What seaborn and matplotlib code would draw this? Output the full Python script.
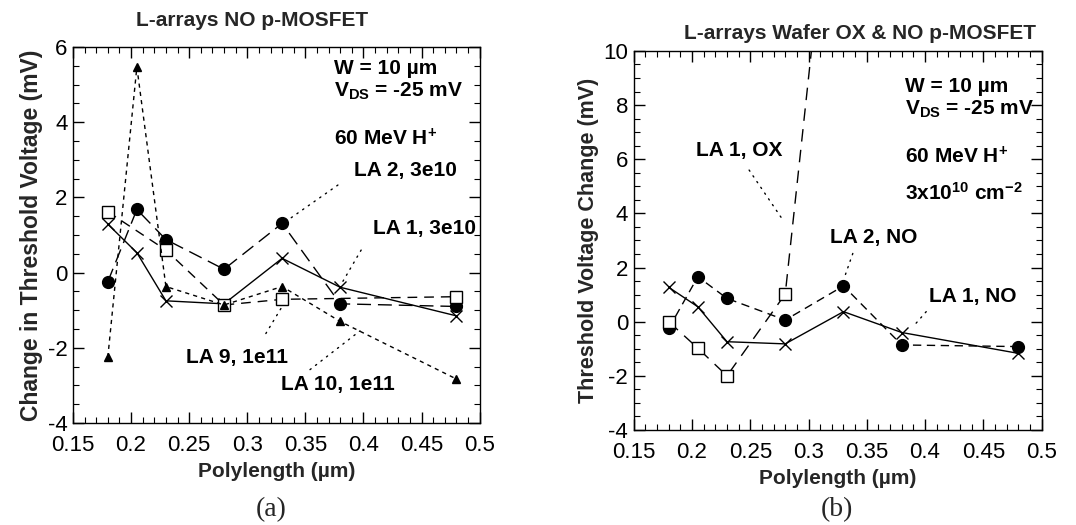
import matplotlib
matplotlib.use("Agg")
import matplotlib.pyplot as plt
import seaborn as sns
from matplotlib.ticker import FixedLocator, MultipleLocator

# ---------------- data ----------------
x_all = [0.18, 0.205, 0.23, 0.28, 0.33, 0.38, 0.48]

# panel (a)
a_la1_y = [1.29, 0.53, -0.75, -0.83, 0.38, -0.39, -1.15]      # crosses, solid
a_la2_y = [-0.24, 1.68, 0.88, 0.09, 1.31, -0.83, -0.90]       # filled circles
a_la9_x = [0.18, 0.23, 0.28, 0.33, 0.48]
a_la9_y = [1.62, 0.60, -0.86, -0.71, -0.64]                   # open squares
a_la10_y = [-2.25, 5.47, -0.37, -0.86, -0.37, -1.30, -2.83]   # filled triangles

# panel (b)
b_la1no_y = [1.27, 0.55, -0.74, -0.82, 0.37, -0.40, -1.17]    # crosses
b_la2no_y = [-0.25, 1.66, 0.86, 0.06, 1.32, -0.86, -0.92]     # filled circles
b_la1ox_x = [0.18, 0.205, 0.23, 0.28, 0.33]
b_la1ox_y = [0.0, -0.98, -2.0, 1.02, 21.0]                    # open squares

x_ticks = [0.15, 0.2, 0.25, 0.3, 0.35, 0.4, 0.45, 0.5]
x_ticklabels = ["0.15", "0.2", "0.25", "0.3", "0.35", "0.4", "0.45", "0.5"]
a_yticks = [-4, -2, 0, 2, 4, 6]
b_yticks = [-4, -2, 0, 2, 4, 6, 8, 10]

# ---------------- style ----------------
sns.set_theme(style="ticks")
plt.rcParams['font.family'] = ['Liberation Sans', 'DejaVu Sans']
plt.rcParams['axes.unicode_minus'] = False
plt.rcParams['mathtext.fontset'] = 'custom'
plt.rcParams['mathtext.rm'] = 'Liberation Sans:bold'
plt.rcParams['mathtext.it'] = 'Liberation Sans:bold'
plt.rcParams['mathtext.bf'] = 'Liberation Sans:bold'
plt.rcParams['mathtext.default'] = 'rm'

fig = plt.figure(figsize=(10.76, 5.25), dpi=100)
ax1 = fig.add_axes([0.0678, 0.1943, 0.378, 0.716])
ax2 = fig.add_axes([0.589, 0.181, 0.379, 0.722])

K = "black"
lw = 1.0

def series(ax, x, y, marker, ls, ms, mfc=K):
    sns.lineplot(x=x, y=y, ax=ax, sort=False, estimator=None, color=K,
                 linewidth=lw, linestyle=ls, marker=marker, markersize=ms,
                 markerfacecolor=mfc, markeredgecolor=K, markeredgewidth=1.0)

# panel (a)
series(ax1, x_all, a_la1_y, "x", "-", 9)
series(ax1, x_all, a_la2_y, "o", (0, (10, 5)), 8.5)
series(ax1, a_la9_x, a_la9_y, "s", (0, (7, 5)), 8, "white")
series(ax1, x_all, a_la10_y, "^", (0, (3, 3)), 6)

# panel (b)
series(ax2, x_all, b_la1no_y, "x", "-", 9)
series(ax2, x_all, b_la2no_y, "o", (0, (6, 4)), 8.5)
series(ax2, b_la1ox_x, b_la1ox_y, "s", (0, (9, 6)), 8, "white")

def style_axes(ax, ylim, yticks):
    ax.set_xlim(0.15, 0.5)
    ax.set_ylim(*ylim)
    ax.xaxis.set_major_locator(FixedLocator(x_ticks))
    ax.set_xticklabels(x_ticklabels)
    ax.xaxis.set_minor_locator(MultipleLocator(0.01))
    ax.yaxis.set_major_locator(FixedLocator(yticks))
    ax.set_yticklabels([str(v) for v in yticks])
    ax.yaxis.set_minor_locator(MultipleLocator(0.5))
    ax.tick_params(which="both", direction="in", top=True, right=True,
                   colors=K, labelsize=16)
    ax.tick_params(axis="x", which="major", pad=9)
    ax.tick_params(axis="y", which="major", pad=4)
    ax.tick_params(which="major", length=8, width=1.0)
    ax.tick_params(which="minor", length=4, width=0.8)
    for s in ax.spines.values():
        s.set_linewidth(1.0)
        s.set_color(K)
    ax.set_xlabel("Polylength (µm)", fontsize=15, fontweight="bold", labelpad=4)

style_axes(ax1, (-4, 6), a_yticks)
style_axes(ax2, (-4, 10), b_yticks)
ax1.set_ylabel("Change in Threshold Voltage (mV)", fontsize=16.5, fontweight="bold", labelpad=3)
ax2.set_ylabel("Threshold Voltage Change (mV)", fontsize=15.5, fontweight="bold", labelpad=3)

tk = dict(fontsize=15, fontweight="bold", color=K)

# titles
fig.text(0.234, 0.960, "L-arrays NO p-MOSFET", ha="center", va="center", fontsize=15, fontweight="bold")
fig.text(0.799, 0.937, "L-arrays Wafer OX & NO p-MOSFET", ha="center", va="center", fontsize=15, fontweight="bold")
fig.text(0.252, 0.030, "(a)", ha="center", va="center", fontsize=20, family="Liberation Serif")
fig.text(0.778, 0.030, "(b)", ha="center", va="center", fontsize=20, family="Liberation Serif")

dot = dict(arrowstyle="-", linestyle=(0, (1, 4)), linewidth=1.0, color=K, shrinkA=0, shrinkB=0)

# panel (a) texts
ax1.text(0.375, 5.42, "W = 10 µm", ha="left", va="center", **tk)
ax1.text(0.375, 4.82, r"V$_{\mathregular{DS}}$ = -25 mV", ha="left", va="center", **tk)
ax1.text(0.375, 3.55, r"60 MeV H$^{\mathregular{+}}$", ha="left", va="center", **tk)
ax1.text(0.392, 2.73, "LA 2, 3e10", ha="left", va="center", **tk)
ax1.text(0.408, 1.18, "LA 1, 3e10", ha="left", va="center", **tk)
ax1.text(0.2475, -2.27, "LA 9, 1e11", ha="left", va="center", **tk)
ax1.text(0.329, -2.98, "LA 10, 1e11", ha="left", va="center", **tk)
ax1.annotate("", xy=(0.335, 1.4), xytext=(0.378, 2.33), arrowprops=dot)
ax1.annotate("", xy=(0.381, -0.3), xytext=(0.398, 0.6), arrowprops=dot)
ax1.annotate("", xy=(0.331, -0.85), xytext=(0.316, -1.62), arrowprops=dot)
ax1.annotate("", xy=(0.397, -1.55), xytext=(0.354, -2.58), arrowprops=dot)

# panel (b) texts
ax2.text(0.383, 8.7, "W = 10 µm", ha="left", va="center", **tk)
ax2.text(0.383, 7.85, r"V$_{\mathregular{DS}}$ = -25 mV", ha="left", va="center", **tk)
ax2.text(0.383, 6.1, r"60 MeV H$^{\mathregular{+}}$", ha="left", va="center", **tk)
ax2.text(0.383, 4.75, r"3x10$^{\mathregular{10}}$ cm$^{\mathregular{-2}}$", ha="left", va="center", **tk)
ax2.text(0.2036, 6.33, "LA 1, OX", ha="left", va="center", **tk)
ax2.text(0.318, 3.11, "LA 2, NO", ha="left", va="center", **tk)
ax2.text(0.403, 0.92, "LA 1, NO", ha="left", va="center", **tk)
ax2.annotate("", xy=(0.279, 3.69), xytext=(0.249, 5.6), arrowprops=dot)
ax2.annotate("", xy=(0.331, 1.66), xytext=(0.338, 2.52), arrowprops=dot)
ax2.annotate("", xy=(0.391, -0.12), xytext=(0.401, 0.37), arrowprops=dot)

fig.savefig("out.png", dpi=100, facecolor="white")
